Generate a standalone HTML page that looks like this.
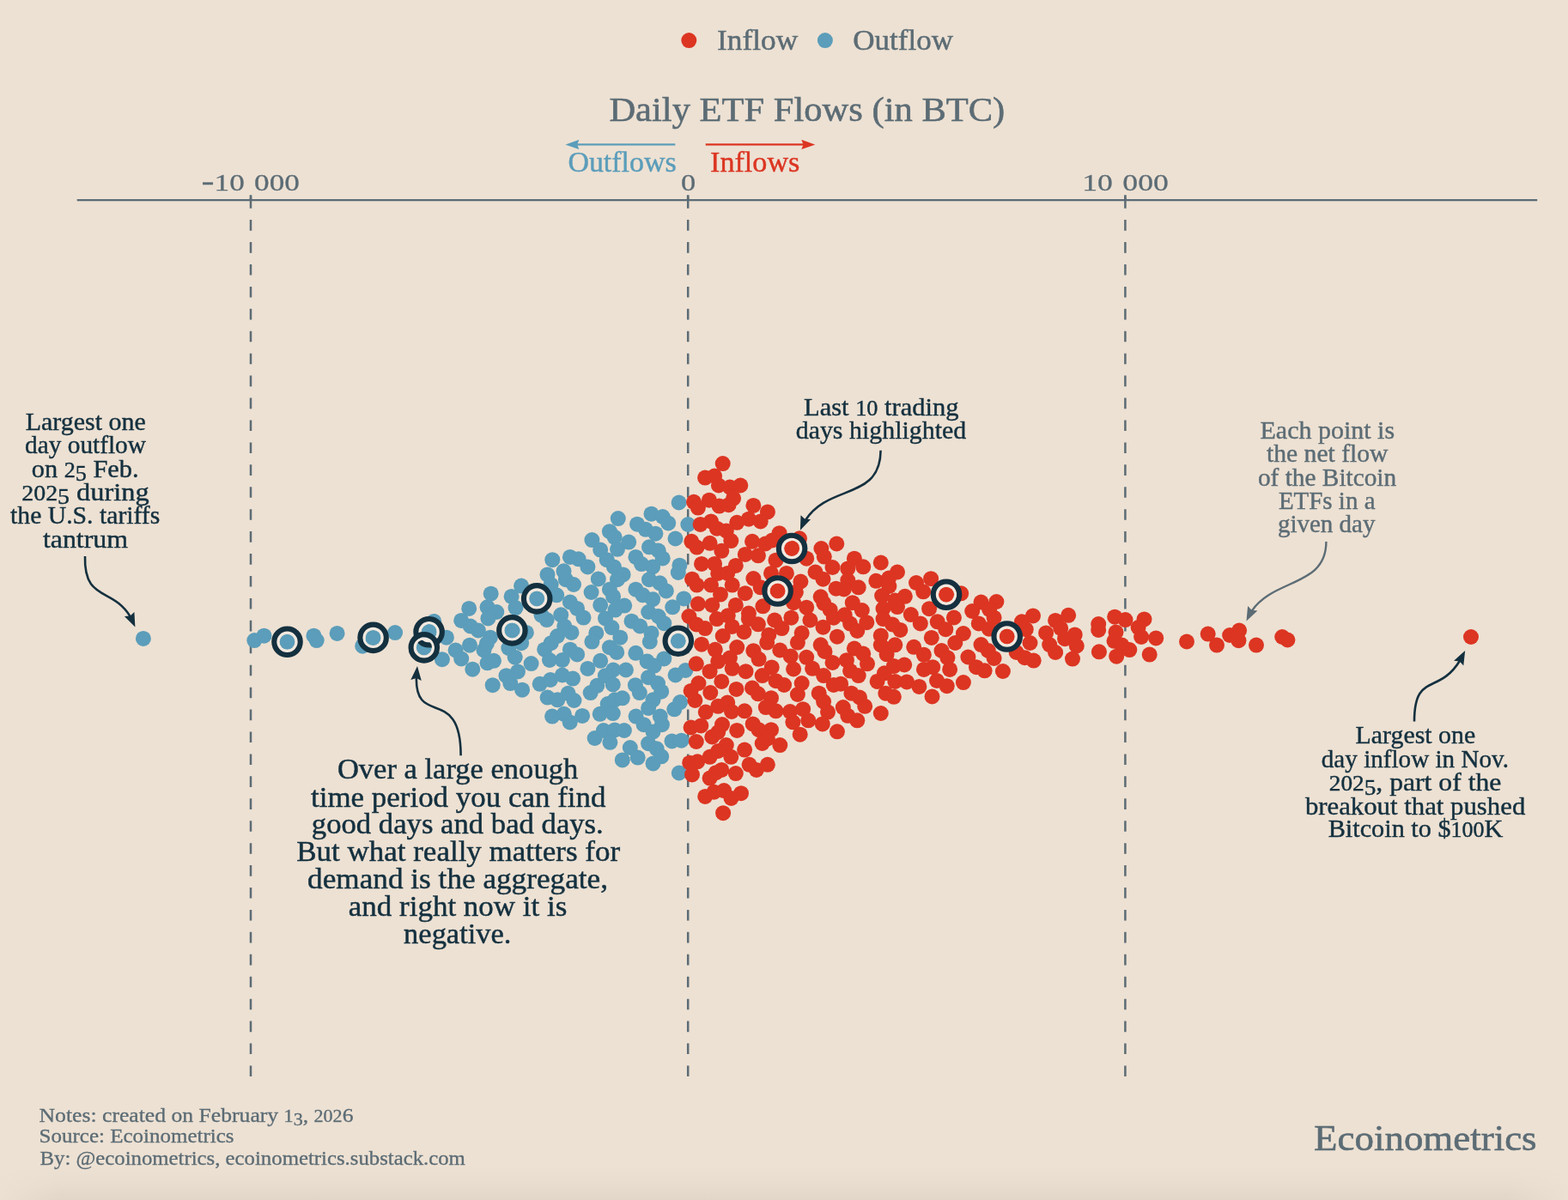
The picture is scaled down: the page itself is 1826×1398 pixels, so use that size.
<!DOCTYPE html>
<html lang="en"><head><meta charset="utf-8"><title>Daily ETF Flows (in BTC)</title>
<style>html,body{margin:0;padding:0;background:#ede1d3}body{width:1826px;height:1398px;overflow:hidden}svg{display:block}text{font-family:"Liberation Serif", serif;white-space:pre}</style></head><body>
<svg width="1826" height="1398" viewBox="0 0 1826 1398">
<defs><linearGradient id="bs" x1="0" y1="0" x2="0" y2="1"><stop offset="0" stop-color="#ede1d3"/><stop offset="0.5" stop-color="#e9ddcf"/><stop offset="1" stop-color="#e2d6c8"/></linearGradient><linearGradient id="fl" x1="0" y1="0" x2="1" y2="0"><stop offset="0" stop-color="#ede1d3" stop-opacity="0.9"/><stop offset="1" stop-color="#ede1d3" stop-opacity="0"/></linearGradient><linearGradient id="fr" x1="0" y1="0" x2="1" y2="0"><stop offset="0" stop-color="#ede1d3" stop-opacity="0"/><stop offset="1" stop-color="#ede1d3" stop-opacity="0.9"/></linearGradient></defs>
<rect width="1826" height="1398" fill="#ede1d3"/>
<rect x="0" y="1358" width="1826" height="40" fill="url(#bs)"/>
<rect x="0" y="1358" width="70" height="40" fill="url(#fl)"/><rect x="1756" y="1358" width="70" height="40" fill="url(#fr)"/>
<circle cx="802.3" cy="47.1" r="9" fill="#dc3522"/>
<text x="835.0" y="58.3" font-size="34.12" fill="#5c6c75" stroke="#5c6c75" stroke-width="0.48" text-anchor="start" textLength="94.2" lengthAdjust="spacingAndGlyphs">Inflow</text>
<circle cx="960.9" cy="47.1" r="9" fill="#5b9dba"/>
<text x="993.3" y="58.3" font-size="34.12" fill="#5c6c75" stroke="#5c6c75" stroke-width="0.48" text-anchor="start" textLength="116.7" lengthAdjust="spacingAndGlyphs">Outflow</text>
<text x="709.4" y="141.3" font-size="39.90" fill="#5c6c75" stroke="#5c6c75" stroke-width="0.56" text-anchor="start" textLength="460.9" lengthAdjust="spacingAndGlyphs">Daily ETF Flows (in BTC)</text>
<path d="M786.3,168.4 H668" stroke="#5b9dba" stroke-width="2.2" fill="none"/>
<path d="M658.4,168.4 L674.4,162.8 L672.2,168.4 L674.4,174.0 Z" fill="#5b9dba"/>
<path d="M821.7,168.4 H940" stroke="#dc3522" stroke-width="2.2" fill="none"/>
<path d="M949.3,168.4 L933.3,174.0 L935.5,168.4 L933.3,162.8 Z" fill="#dc3522"/>
<text x="661.4" y="199.9" font-size="33.60" fill="#5b9dba" stroke="#5b9dba" stroke-width="0.40" text-anchor="start" textLength="126.3" lengthAdjust="spacingAndGlyphs">Outflows</text>
<text x="827.0" y="199.9" font-size="33.60" fill="#dc3522" stroke="#dc3522" stroke-width="0.40" text-anchor="start" textLength="104.4" lengthAdjust="spacingAndGlyphs">Inflows</text>
<path d="M89.7,233.1 H1790.2" stroke="#5c6c75" stroke-width="2.4" fill="none"/>
<path d="M292.0,227.2 V233.1" stroke="#5c6c75" stroke-width="2.7" fill="none"/>
<path d="M292.0,230.17 V1254.1" stroke="#5c6c75" stroke-width="2.5" stroke-dasharray="12.6 13.33" fill="none"/>
<path d="M801.2,227.2 V233.1" stroke="#5c6c75" stroke-width="2.7" fill="none"/>
<path d="M801.2,230.17 V1254.1" stroke="#5c6c75" stroke-width="2.5" stroke-dasharray="12.6 13.33" fill="none"/>
<path d="M1310.4,227.2 V233.1" stroke="#5c6c75" stroke-width="2.7" fill="none"/>
<path d="M1310.4,230.17 V1254.1" stroke="#5c6c75" stroke-width="2.5" stroke-dasharray="12.6 13.33" fill="none"/>
<text x="234.5" y="222.2" font-size="34.12" fill="#5c6c75" stroke="#5c6c75" stroke-width="0.27" text-anchor="start" textLength="114.4" lengthAdjust="spacingAndGlyphs">-<tspan font-size="26.62">1</tspan><tspan font-size="26.62">0</tspan> <tspan font-size="26.62">0</tspan><tspan font-size="26.62">0</tspan><tspan font-size="26.62">0</tspan></text>
<text x="792.9" y="222.2" font-size="34.12" fill="#5c6c75" stroke="#5c6c75" stroke-width="0.27" text-anchor="start" textLength="17.2" lengthAdjust="spacingAndGlyphs"><tspan font-size="26.62">0</tspan></text>
<text x="1260.2" y="222.2" font-size="34.12" fill="#5c6c75" stroke="#5c6c75" stroke-width="0.27" text-anchor="start" textLength="100.7" lengthAdjust="spacingAndGlyphs"><tspan font-size="26.62">1</tspan><tspan font-size="26.62">0</tspan> <tspan font-size="26.62">0</tspan><tspan font-size="26.62">0</tspan><tspan font-size="26.62">0</tspan></text>
<g id="dots">
<circle cx="166.9" cy="743.9" r="9" fill="#5b9dba"/>
<circle cx="296.3" cy="746.1" r="9" fill="#5b9dba"/>
<circle cx="307.5" cy="740.7" r="9" fill="#5b9dba"/>
<circle cx="334.5" cy="747.8" r="9" fill="#5b9dba"/>
<circle cx="365.4" cy="740.7" r="9" fill="#5b9dba"/>
<circle cx="368.7" cy="746.1" r="9" fill="#5b9dba"/>
<circle cx="392.6" cy="737.9" r="9" fill="#5b9dba"/>
<circle cx="434.6" cy="742.9" r="9" fill="#5b9dba"/>
<circle cx="422.2" cy="752.7" r="9" fill="#5b9dba"/>
<circle cx="460.1" cy="737.1" r="9" fill="#5b9dba"/>
<circle cx="499.6" cy="736.3" r="9" fill="#5b9dba"/>
<circle cx="493.8" cy="754.4" r="9" fill="#5b9dba"/>
<circle cx="505.3" cy="723.9" r="9" fill="#5b9dba"/>
<circle cx="790.6" cy="585.5" r="9" fill="#5b9dba"/>
<circle cx="801.3" cy="611.0" r="9" fill="#5b9dba"/>
<circle cx="758.5" cy="598.7" r="9" fill="#5b9dba"/>
<circle cx="771.7" cy="602.0" r="9" fill="#5b9dba"/>
<circle cx="778.2" cy="609.4" r="9" fill="#5b9dba"/>
<circle cx="719.8" cy="604.1" r="9" fill="#5b9dba"/>
<circle cx="742.0" cy="610.7" r="9" fill="#5b9dba"/>
<circle cx="751.9" cy="616.8" r="9" fill="#5b9dba"/>
<circle cx="763.4" cy="621.7" r="9" fill="#5b9dba"/>
<circle cx="786.5" cy="627.5" r="9" fill="#5b9dba"/>
<circle cx="709.9" cy="619.2" r="9" fill="#5b9dba"/>
<circle cx="715.7" cy="625.8" r="9" fill="#5b9dba"/>
<circle cx="732.2" cy="631.6" r="9" fill="#5b9dba"/>
<circle cx="689.4" cy="629.1" r="9" fill="#5b9dba"/>
<circle cx="699.2" cy="640.6" r="9" fill="#5b9dba"/>
<circle cx="719.0" cy="639.8" r="9" fill="#5b9dba"/>
<circle cx="756.0" cy="637.3" r="9" fill="#5b9dba"/>
<circle cx="766.7" cy="641.5" r="9" fill="#5b9dba"/>
<circle cx="771.7" cy="650.5" r="9" fill="#5b9dba"/>
<circle cx="740.4" cy="648.9" r="9" fill="#5b9dba"/>
<circle cx="747.0" cy="657.1" r="9" fill="#5b9dba"/>
<circle cx="760.1" cy="660.4" r="9" fill="#5b9dba"/>
<circle cx="791.4" cy="658.7" r="9" fill="#5b9dba"/>
<circle cx="789.8" cy="667.0" r="9" fill="#5b9dba"/>
<circle cx="643.3" cy="652.2" r="9" fill="#5b9dba"/>
<circle cx="663.9" cy="648.9" r="9" fill="#5b9dba"/>
<circle cx="673.7" cy="651.3" r="9" fill="#5b9dba"/>
<circle cx="684.4" cy="660.4" r="9" fill="#5b9dba"/>
<circle cx="706.7" cy="652.2" r="9" fill="#5b9dba"/>
<circle cx="714.9" cy="660.4" r="9" fill="#5b9dba"/>
<circle cx="656.5" cy="665.3" r="9" fill="#5b9dba"/>
<circle cx="637.5" cy="669.4" r="9" fill="#5b9dba"/>
<circle cx="725.6" cy="669.4" r="9" fill="#5b9dba"/>
<circle cx="696.8" cy="674.4" r="9" fill="#5b9dba"/>
<circle cx="719.0" cy="675.2" r="9" fill="#5b9dba"/>
<circle cx="756.0" cy="675.2" r="9" fill="#5b9dba"/>
<circle cx="768.4" cy="679.3" r="9" fill="#5b9dba"/>
<circle cx="775.8" cy="688.4" r="9" fill="#5b9dba"/>
<circle cx="658.9" cy="675.2" r="9" fill="#5b9dba"/>
<circle cx="668.0" cy="681.0" r="9" fill="#5b9dba"/>
<circle cx="641.7" cy="681.0" r="9" fill="#5b9dba"/>
<circle cx="688.6" cy="690.0" r="9" fill="#5b9dba"/>
<circle cx="709.9" cy="686.7" r="9" fill="#5b9dba"/>
<circle cx="714.1" cy="694.9" r="9" fill="#5b9dba"/>
<circle cx="740.4" cy="686.7" r="9" fill="#5b9dba"/>
<circle cx="748.6" cy="693.3" r="9" fill="#5b9dba"/>
<circle cx="760.1" cy="698.2" r="9" fill="#5b9dba"/>
<circle cx="796.3" cy="697.4" r="9" fill="#5b9dba"/>
<circle cx="783.2" cy="707.3" r="9" fill="#5b9dba"/>
<circle cx="607.1" cy="682.6" r="9" fill="#5b9dba"/>
<circle cx="625.2" cy="697.4" r="9" fill="#5b9dba"/>
<circle cx="571.7" cy="691.7" r="9" fill="#5b9dba"/>
<circle cx="595.6" cy="694.9" r="9" fill="#5b9dba"/>
<circle cx="648.2" cy="693.3" r="9" fill="#5b9dba"/>
<circle cx="663.9" cy="701.5" r="9" fill="#5b9dba"/>
<circle cx="672.1" cy="708.9" r="9" fill="#5b9dba"/>
<circle cx="699.2" cy="704.8" r="9" fill="#5b9dba"/>
<circle cx="727.2" cy="705.6" r="9" fill="#5b9dba"/>
<circle cx="716.5" cy="710.6" r="9" fill="#5b9dba"/>
<circle cx="755.2" cy="713.0" r="9" fill="#5b9dba"/>
<circle cx="766.7" cy="718.0" r="9" fill="#5b9dba"/>
<circle cx="773.3" cy="726.2" r="9" fill="#5b9dba"/>
<circle cx="546.2" cy="708.9" r="9" fill="#5b9dba"/>
<circle cx="567.6" cy="707.3" r="9" fill="#5b9dba"/>
<circle cx="578.3" cy="713.0" r="9" fill="#5b9dba"/>
<circle cx="600.5" cy="708.1" r="9" fill="#5b9dba"/>
<circle cx="653.2" cy="716.3" r="9" fill="#5b9dba"/>
<circle cx="679.5" cy="719.6" r="9" fill="#5b9dba"/>
<circle cx="636.7" cy="722.1" r="9" fill="#5b9dba"/>
<circle cx="705.0" cy="720.4" r="9" fill="#5b9dba"/>
<circle cx="712.4" cy="731.1" r="9" fill="#5b9dba"/>
<circle cx="735.5" cy="723.7" r="9" fill="#5b9dba"/>
<circle cx="745.3" cy="729.5" r="9" fill="#5b9dba"/>
<circle cx="758.5" cy="737.7" r="9" fill="#5b9dba"/>
<circle cx="537.2" cy="722.9" r="9" fill="#5b9dba"/>
<circle cx="547.8" cy="729.5" r="9" fill="#5b9dba"/>
<circle cx="556.9" cy="734.4" r="9" fill="#5b9dba"/>
<circle cx="568.4" cy="720.4" r="9" fill="#5b9dba"/>
<circle cx="596.4" cy="734.4" r="9" fill="#5b9dba"/>
<circle cx="612.9" cy="736.9" r="9" fill="#5b9dba"/>
<circle cx="657.3" cy="729.5" r="9" fill="#5b9dba"/>
<circle cx="665.5" cy="736.9" r="9" fill="#5b9dba"/>
<circle cx="649.1" cy="741.0" r="9" fill="#5b9dba"/>
<circle cx="694.3" cy="737.7" r="9" fill="#5b9dba"/>
<circle cx="689.4" cy="747.6" r="9" fill="#5b9dba"/>
<circle cx="722.3" cy="742.7" r="9" fill="#5b9dba"/>
<circle cx="709.9" cy="754.2" r="9" fill="#5b9dba"/>
<circle cx="756.8" cy="747.6" r="9" fill="#5b9dba"/>
<circle cx="789.8" cy="746.8" r="9" fill="#5b9dba"/>
<circle cx="519.9" cy="742.7" r="9" fill="#5b9dba"/>
<circle cx="530.6" cy="757.5" r="9" fill="#5b9dba"/>
<circle cx="547.0" cy="751.7" r="9" fill="#5b9dba"/>
<circle cx="570.9" cy="742.7" r="9" fill="#5b9dba"/>
<circle cx="563.5" cy="757.5" r="9" fill="#5b9dba"/>
<circle cx="592.3" cy="755.0" r="9" fill="#5b9dba"/>
<circle cx="607.1" cy="749.2" r="9" fill="#5b9dba"/>
<circle cx="634.2" cy="756.7" r="9" fill="#5b9dba"/>
<circle cx="641.7" cy="749.2" r="9" fill="#5b9dba"/>
<circle cx="663.9" cy="756.7" r="9" fill="#5b9dba"/>
<circle cx="672.1" cy="762.4" r="9" fill="#5b9dba"/>
<circle cx="740.4" cy="760.8" r="9" fill="#5b9dba"/>
<circle cx="699.2" cy="769.8" r="9" fill="#5b9dba"/>
<circle cx="718.2" cy="759.9" r="9" fill="#5b9dba"/>
<circle cx="773.3" cy="767.4" r="9" fill="#5b9dba"/>
<circle cx="514.9" cy="768.2" r="9" fill="#5b9dba"/>
<circle cx="537.2" cy="767.4" r="9" fill="#5b9dba"/>
<circle cx="550.3" cy="779.7" r="9" fill="#5b9dba"/>
<circle cx="567.6" cy="772.3" r="9" fill="#5b9dba"/>
<circle cx="575.0" cy="769.8" r="9" fill="#5b9dba"/>
<circle cx="599.7" cy="765.7" r="9" fill="#5b9dba"/>
<circle cx="618.6" cy="773.1" r="9" fill="#5b9dba"/>
<circle cx="640.0" cy="769.0" r="9" fill="#5b9dba"/>
<circle cx="654.8" cy="769.0" r="9" fill="#5b9dba"/>
<circle cx="684.4" cy="778.9" r="9" fill="#5b9dba"/>
<circle cx="728.9" cy="780.5" r="9" fill="#5b9dba"/>
<circle cx="714.1" cy="780.5" r="9" fill="#5b9dba"/>
<circle cx="753.6" cy="770.6" r="9" fill="#5b9dba"/>
<circle cx="761.8" cy="775.6" r="9" fill="#5b9dba"/>
<circle cx="573.7" cy="798.2" r="9" fill="#5b9dba"/>
<circle cx="589.5" cy="787.2" r="9" fill="#5b9dba"/>
<circle cx="594.3" cy="796.1" r="9" fill="#5b9dba"/>
<circle cx="608.1" cy="803.7" r="9" fill="#5b9dba"/>
<circle cx="628.7" cy="796.8" r="9" fill="#5b9dba"/>
<circle cx="641.0" cy="792.0" r="9" fill="#5b9dba"/>
<circle cx="654.8" cy="786.5" r="9" fill="#5b9dba"/>
<circle cx="667.1" cy="790.6" r="9" fill="#5b9dba"/>
<circle cx="637.6" cy="812.6" r="9" fill="#5b9dba"/>
<circle cx="649.3" cy="815.3" r="9" fill="#5b9dba"/>
<circle cx="661.6" cy="807.8" r="9" fill="#5b9dba"/>
<circle cx="668.5" cy="816.0" r="9" fill="#5b9dba"/>
<circle cx="643.1" cy="834.6" r="9" fill="#5b9dba"/>
<circle cx="656.8" cy="831.8" r="9" fill="#5b9dba"/>
<circle cx="663.7" cy="841.4" r="9" fill="#5b9dba"/>
<circle cx="678.1" cy="833.9" r="9" fill="#5b9dba"/>
<circle cx="687.7" cy="807.1" r="9" fill="#5b9dba"/>
<circle cx="695.3" cy="798.8" r="9" fill="#5b9dba"/>
<circle cx="704.9" cy="787.2" r="9" fill="#5b9dba"/>
<circle cx="713.8" cy="797.5" r="9" fill="#5b9dba"/>
<circle cx="707.7" cy="820.1" r="9" fill="#5b9dba"/>
<circle cx="715.9" cy="815.3" r="9" fill="#5b9dba"/>
<circle cx="724.8" cy="813.3" r="9" fill="#5b9dba"/>
<circle cx="698.7" cy="831.8" r="9" fill="#5b9dba"/>
<circle cx="713.8" cy="831.1" r="9" fill="#5b9dba"/>
<circle cx="739.9" cy="798.2" r="9" fill="#5b9dba"/>
<circle cx="744.8" cy="807.1" r="9" fill="#5b9dba"/>
<circle cx="755.1" cy="789.2" r="9" fill="#5b9dba"/>
<circle cx="766.0" cy="796.1" r="9" fill="#5b9dba"/>
<circle cx="770.2" cy="805.7" r="9" fill="#5b9dba"/>
<circle cx="760.5" cy="815.3" r="9" fill="#5b9dba"/>
<circle cx="755.1" cy="824.9" r="9" fill="#5b9dba"/>
<circle cx="740.6" cy="834.6" r="9" fill="#5b9dba"/>
<circle cx="749.6" cy="844.2" r="9" fill="#5b9dba"/>
<circle cx="768.8" cy="834.6" r="9" fill="#5b9dba"/>
<circle cx="770.9" cy="844.2" r="9" fill="#5b9dba"/>
<circle cx="760.5" cy="852.4" r="9" fill="#5b9dba"/>
<circle cx="702.9" cy="851.0" r="9" fill="#5b9dba"/>
<circle cx="715.9" cy="850.4" r="9" fill="#5b9dba"/>
<circle cx="726.9" cy="851.0" r="9" fill="#5b9dba"/>
<circle cx="692.6" cy="860.0" r="9" fill="#5b9dba"/>
<circle cx="710.4" cy="864.8" r="9" fill="#5b9dba"/>
<circle cx="733.8" cy="871.0" r="9" fill="#5b9dba"/>
<circle cx="724.8" cy="885.4" r="9" fill="#5b9dba"/>
<circle cx="742.7" cy="882.6" r="9" fill="#5b9dba"/>
<circle cx="755.1" cy="866.2" r="9" fill="#5b9dba"/>
<circle cx="764.7" cy="872.3" r="9" fill="#5b9dba"/>
<circle cx="770.2" cy="881.3" r="9" fill="#5b9dba"/>
<circle cx="760.5" cy="889.5" r="9" fill="#5b9dba"/>
<circle cx="782.5" cy="863.4" r="9" fill="#5b9dba"/>
<circle cx="793.5" cy="862.7" r="9" fill="#5b9dba"/>
<circle cx="785.3" cy="826.3" r="9" fill="#5b9dba"/>
<circle cx="792.1" cy="818.1" r="9" fill="#5b9dba"/>
<circle cx="786.6" cy="786.5" r="9" fill="#5b9dba"/>
<circle cx="798.3" cy="781.0" r="9" fill="#5b9dba"/>
<circle cx="790.8" cy="900.5" r="9" fill="#5b9dba"/>
<circle cx="841.7" cy="540.1" r="9" fill="#dc3522"/>
<circle cx="821.1" cy="556.6" r="9" fill="#dc3522"/>
<circle cx="832.1" cy="554.5" r="9" fill="#dc3522"/>
<circle cx="836.9" cy="565.5" r="9" fill="#dc3522"/>
<circle cx="849.9" cy="567.6" r="9" fill="#dc3522"/>
<circle cx="862.3" cy="565.5" r="9" fill="#dc3522"/>
<circle cx="854.1" cy="580.6" r="9" fill="#dc3522"/>
<circle cx="825.9" cy="582.7" r="9" fill="#dc3522"/>
<circle cx="808.0" cy="584.8" r="9" fill="#dc3522"/>
<circle cx="812.9" cy="591.6" r="9" fill="#dc3522"/>
<circle cx="837.6" cy="589.6" r="9" fill="#dc3522"/>
<circle cx="848.6" cy="588.2" r="9" fill="#dc3522"/>
<circle cx="877.4" cy="588.9" r="9" fill="#dc3522"/>
<circle cx="893.9" cy="596.4" r="9" fill="#dc3522"/>
<circle cx="871.9" cy="604.7" r="9" fill="#dc3522"/>
<circle cx="885.7" cy="607.4" r="9" fill="#dc3522"/>
<circle cx="858.2" cy="608.8" r="9" fill="#dc3522"/>
<circle cx="828.0" cy="607.4" r="9" fill="#dc3522"/>
<circle cx="815.6" cy="610.9" r="9" fill="#dc3522"/>
<circle cx="834.8" cy="615.7" r="9" fill="#dc3522"/>
<circle cx="845.8" cy="618.4" r="9" fill="#dc3522"/>
<circle cx="907.6" cy="621.2" r="9" fill="#dc3522"/>
<circle cx="931.0" cy="627.3" r="9" fill="#dc3522"/>
<circle cx="922.1" cy="639.0" r="9" fill="#dc3522"/>
<circle cx="876.0" cy="630.8" r="9" fill="#dc3522"/>
<circle cx="891.2" cy="633.5" r="9" fill="#dc3522"/>
<circle cx="899.4" cy="629.4" r="9" fill="#dc3522"/>
<circle cx="805.3" cy="630.8" r="9" fill="#dc3522"/>
<circle cx="811.5" cy="637.6" r="9" fill="#dc3522"/>
<circle cx="826.6" cy="632.8" r="9" fill="#dc3522"/>
<circle cx="851.3" cy="630.1" r="9" fill="#dc3522"/>
<circle cx="840.3" cy="641.8" r="9" fill="#dc3522"/>
<circle cx="867.8" cy="645.9" r="9" fill="#dc3522"/>
<circle cx="882.9" cy="647.3" r="9" fill="#dc3522"/>
<circle cx="903.5" cy="652.7" r="9" fill="#dc3522"/>
<circle cx="939.2" cy="650.7" r="9" fill="#dc3522"/>
<circle cx="956.4" cy="639.0" r="9" fill="#dc3522"/>
<circle cx="974.3" cy="633.5" r="9" fill="#dc3522"/>
<circle cx="959.8" cy="648.6" r="9" fill="#dc3522"/>
<circle cx="817.0" cy="656.9" r="9" fill="#dc3522"/>
<circle cx="832.1" cy="656.9" r="9" fill="#dc3522"/>
<circle cx="856.8" cy="658.9" r="9" fill="#dc3522"/>
<circle cx="836.2" cy="667.9" r="9" fill="#dc3522"/>
<circle cx="847.2" cy="667.9" r="9" fill="#dc3522"/>
<circle cx="898.0" cy="667.9" r="9" fill="#dc3522"/>
<circle cx="915.9" cy="667.9" r="9" fill="#dc3522"/>
<circle cx="949.5" cy="666.5" r="9" fill="#dc3522"/>
<circle cx="969.5" cy="661.0" r="9" fill="#dc3522"/>
<circle cx="994.9" cy="650.7" r="9" fill="#dc3522"/>
<circle cx="1005.2" cy="660.3" r="9" fill="#dc3522"/>
<circle cx="987.3" cy="662.4" r="9" fill="#dc3522"/>
<circle cx="1025.8" cy="655.5" r="9" fill="#dc3522"/>
<circle cx="1020.3" cy="676.8" r="9" fill="#dc3522"/>
<circle cx="806.0" cy="674.7" r="9" fill="#dc3522"/>
<circle cx="811.5" cy="681.6" r="9" fill="#dc3522"/>
<circle cx="828.0" cy="681.6" r="9" fill="#dc3522"/>
<circle cx="852.7" cy="681.6" r="9" fill="#dc3522"/>
<circle cx="877.4" cy="674.0" r="9" fill="#dc3522"/>
<circle cx="885.7" cy="684.3" r="9" fill="#dc3522"/>
<circle cx="905.6" cy="688.5" r="9" fill="#dc3522"/>
<circle cx="932.4" cy="677.5" r="9" fill="#dc3522"/>
<circle cx="926.9" cy="689.8" r="9" fill="#dc3522"/>
<circle cx="958.5" cy="674.7" r="9" fill="#dc3522"/>
<circle cx="973.6" cy="685.7" r="9" fill="#dc3522"/>
<circle cx="987.3" cy="676.1" r="9" fill="#dc3522"/>
<circle cx="999.7" cy="684.3" r="9" fill="#dc3522"/>
<circle cx="1035.4" cy="683.0" r="9" fill="#dc3522"/>
<circle cx="867.8" cy="691.2" r="9" fill="#dc3522"/>
<circle cx="839.0" cy="692.6" r="9" fill="#dc3522"/>
<circle cx="955.7" cy="695.3" r="9" fill="#dc3522"/>
<circle cx="992.8" cy="702.2" r="9" fill="#dc3522"/>
<circle cx="1027.1" cy="694.0" r="9" fill="#dc3522"/>
<circle cx="1042.3" cy="699.5" r="9" fill="#dc3522"/>
<circle cx="812.9" cy="703.6" r="9" fill="#dc3522"/>
<circle cx="829.3" cy="704.9" r="9" fill="#dc3522"/>
<circle cx="856.8" cy="704.9" r="9" fill="#dc3522"/>
<circle cx="888.4" cy="706.3" r="9" fill="#dc3522"/>
<circle cx="871.9" cy="714.6" r="9" fill="#dc3522"/>
<circle cx="924.1" cy="702.2" r="9" fill="#dc3522"/>
<circle cx="939.2" cy="707.7" r="9" fill="#dc3522"/>
<circle cx="966.7" cy="710.4" r="9" fill="#dc3522"/>
<circle cx="1028.5" cy="709.1" r="9" fill="#dc3522"/>
<circle cx="821.1" cy="732.1" r="9" fill="#dc3522"/>
<circle cx="834.8" cy="721.1" r="9" fill="#dc3522"/>
<circle cx="841.7" cy="741.0" r="9" fill="#dc3522"/>
<circle cx="866.4" cy="736.2" r="9" fill="#dc3522"/>
<circle cx="871.9" cy="721.1" r="9" fill="#dc3522"/>
<circle cx="882.9" cy="727.3" r="9" fill="#dc3522"/>
<circle cx="902.1" cy="722.5" r="9" fill="#dc3522"/>
<circle cx="910.4" cy="732.1" r="9" fill="#dc3522"/>
<circle cx="895.3" cy="739.7" r="9" fill="#dc3522"/>
<circle cx="921.4" cy="719.7" r="9" fill="#dc3522"/>
<circle cx="933.7" cy="737.6" r="9" fill="#dc3522"/>
<circle cx="943.4" cy="722.5" r="9" fill="#dc3522"/>
<circle cx="958.5" cy="730.7" r="9" fill="#dc3522"/>
<circle cx="974.9" cy="741.7" r="9" fill="#dc3522"/>
<circle cx="970.8" cy="719.7" r="9" fill="#dc3522"/>
<circle cx="990.1" cy="726.6" r="9" fill="#dc3522"/>
<circle cx="998.3" cy="734.9" r="9" fill="#dc3522"/>
<circle cx="1009.3" cy="725.2" r="9" fill="#dc3522"/>
<circle cx="1028.5" cy="721.1" r="9" fill="#dc3522"/>
<circle cx="1025.8" cy="740.4" r="9" fill="#dc3522"/>
<circle cx="817.0" cy="750.7" r="9" fill="#dc3522"/>
<circle cx="832.8" cy="756.8" r="9" fill="#dc3522"/>
<circle cx="858.2" cy="754.1" r="9" fill="#dc3522"/>
<circle cx="849.9" cy="766.5" r="9" fill="#dc3522"/>
<circle cx="877.4" cy="758.2" r="9" fill="#dc3522"/>
<circle cx="883.6" cy="767.8" r="9" fill="#dc3522"/>
<circle cx="893.2" cy="748.6" r="9" fill="#dc3522"/>
<circle cx="908.3" cy="757.5" r="9" fill="#dc3522"/>
<circle cx="920.7" cy="764.4" r="9" fill="#dc3522"/>
<circle cx="928.9" cy="748.6" r="9" fill="#dc3522"/>
<circle cx="939.2" cy="765.8" r="9" fill="#dc3522"/>
<circle cx="955.7" cy="751.3" r="9" fill="#dc3522"/>
<circle cx="960.5" cy="758.9" r="9" fill="#dc3522"/>
<circle cx="994.9" cy="755.5" r="9" fill="#dc3522"/>
<circle cx="1005.2" cy="761.6" r="9" fill="#dc3522"/>
<circle cx="985.9" cy="769.2" r="9" fill="#dc3522"/>
<circle cx="1010.0" cy="773.3" r="9" fill="#dc3522"/>
<circle cx="969.5" cy="771.9" r="9" fill="#dc3522"/>
<circle cx="1032.6" cy="762.3" r="9" fill="#dc3522"/>
<circle cx="1025.8" cy="751.3" r="9" fill="#dc3522"/>
<circle cx="1042.3" cy="751.3" r="9" fill="#dc3522"/>
<circle cx="810.8" cy="773.3" r="9" fill="#dc3522"/>
<circle cx="826.6" cy="782.2" r="9" fill="#dc3522"/>
<circle cx="836.2" cy="770.6" r="9" fill="#dc3522"/>
<circle cx="852.7" cy="778.8" r="9" fill="#dc3522"/>
<circle cx="868.5" cy="782.2" r="9" fill="#dc3522"/>
<circle cx="887.7" cy="787.1" r="9" fill="#dc3522"/>
<circle cx="898.7" cy="777.4" r="9" fill="#dc3522"/>
<circle cx="924.1" cy="779.5" r="9" fill="#dc3522"/>
<circle cx="946.1" cy="778.8" r="9" fill="#dc3522"/>
<circle cx="959.1" cy="787.1" r="9" fill="#dc3522"/>
<circle cx="990.1" cy="781.6" r="9" fill="#dc3522"/>
<circle cx="999.7" cy="787.1" r="9" fill="#dc3522"/>
<circle cx="1029.9" cy="784.3" r="9" fill="#dc3522"/>
<circle cx="1021.6" cy="793.9" r="9" fill="#dc3522"/>
<circle cx="1040.9" cy="776.1" r="9" fill="#dc3522"/>
<circle cx="1042.3" cy="793.9" r="9" fill="#dc3522"/>
<circle cx="813.5" cy="796.0" r="9" fill="#dc3522"/>
<circle cx="804.6" cy="804.9" r="9" fill="#dc3522"/>
<circle cx="809.4" cy="815.9" r="9" fill="#dc3522"/>
<circle cx="827.3" cy="807.0" r="9" fill="#dc3522"/>
<circle cx="840.3" cy="793.9" r="9" fill="#dc3522"/>
<circle cx="857.5" cy="802.9" r="9" fill="#dc3522"/>
<circle cx="876.0" cy="801.5" r="9" fill="#dc3522"/>
<circle cx="882.9" cy="808.3" r="9" fill="#dc3522"/>
<circle cx="898.0" cy="813.2" r="9" fill="#dc3522"/>
<circle cx="903.5" cy="793.2" r="9" fill="#dc3522"/>
<circle cx="913.1" cy="798.0" r="9" fill="#dc3522"/>
<circle cx="933.7" cy="796.0" r="9" fill="#dc3522"/>
<circle cx="928.9" cy="809.0" r="9" fill="#dc3522"/>
<circle cx="953.7" cy="807.7" r="9" fill="#dc3522"/>
<circle cx="959.1" cy="817.3" r="9" fill="#dc3522"/>
<circle cx="970.8" cy="798.0" r="9" fill="#dc3522"/>
<circle cx="979.1" cy="796.7" r="9" fill="#dc3522"/>
<circle cx="991.4" cy="807.7" r="9" fill="#dc3522"/>
<circle cx="1001.0" cy="812.5" r="9" fill="#dc3522"/>
<circle cx="1007.2" cy="822.8" r="9" fill="#dc3522"/>
<circle cx="1031.3" cy="807.7" r="9" fill="#dc3522"/>
<circle cx="1040.9" cy="811.8" r="9" fill="#dc3522"/>
<circle cx="821.8" cy="829.6" r="9" fill="#dc3522"/>
<circle cx="836.2" cy="822.8" r="9" fill="#dc3522"/>
<circle cx="847.2" cy="818.6" r="9" fill="#dc3522"/>
<circle cx="852.0" cy="829.0" r="9" fill="#dc3522"/>
<circle cx="867.1" cy="828.3" r="9" fill="#dc3522"/>
<circle cx="891.8" cy="824.1" r="9" fill="#dc3522"/>
<circle cx="903.5" cy="828.3" r="9" fill="#dc3522"/>
<circle cx="920.0" cy="829.0" r="9" fill="#dc3522"/>
<circle cx="935.1" cy="826.2" r="9" fill="#dc3522"/>
<circle cx="941.3" cy="839.3" r="9" fill="#dc3522"/>
<circle cx="923.4" cy="841.3" r="9" fill="#dc3522"/>
<circle cx="964.0" cy="829.6" r="9" fill="#dc3522"/>
<circle cx="957.8" cy="843.4" r="9" fill="#dc3522"/>
<circle cx="981.8" cy="824.1" r="9" fill="#dc3522"/>
<circle cx="987.3" cy="833.8" r="9" fill="#dc3522"/>
<circle cx="998.3" cy="839.3" r="9" fill="#dc3522"/>
<circle cx="1025.8" cy="831.0" r="9" fill="#dc3522"/>
<circle cx="804.6" cy="847.5" r="9" fill="#dc3522"/>
<circle cx="816.3" cy="845.4" r="9" fill="#dc3522"/>
<circle cx="841.0" cy="844.1" r="9" fill="#dc3522"/>
<circle cx="876.7" cy="843.4" r="9" fill="#dc3522"/>
<circle cx="883.6" cy="850.2" r="9" fill="#dc3522"/>
<circle cx="898.0" cy="850.2" r="9" fill="#dc3522"/>
<circle cx="810.8" cy="864.0" r="9" fill="#dc3522"/>
<circle cx="829.3" cy="858.5" r="9" fill="#dc3522"/>
<circle cx="836.2" cy="853.0" r="9" fill="#dc3522"/>
<circle cx="858.2" cy="850.9" r="9" fill="#dc3522"/>
<circle cx="845.8" cy="868.1" r="9" fill="#dc3522"/>
<circle cx="867.1" cy="873.6" r="9" fill="#dc3522"/>
<circle cx="887.7" cy="866.0" r="9" fill="#dc3522"/>
<circle cx="893.9" cy="860.5" r="9" fill="#dc3522"/>
<circle cx="908.3" cy="868.1" r="9" fill="#dc3522"/>
<circle cx="931.7" cy="855.7" r="9" fill="#dc3522"/>
<circle cx="974.9" cy="852.3" r="9" fill="#dc3522"/>
<circle cx="803.2" cy="888.7" r="9" fill="#dc3522"/>
<circle cx="812.2" cy="887.3" r="9" fill="#dc3522"/>
<circle cx="826.6" cy="881.8" r="9" fill="#dc3522"/>
<circle cx="836.2" cy="875.0" r="9" fill="#dc3522"/>
<circle cx="851.3" cy="881.8" r="9" fill="#dc3522"/>
<circle cx="872.6" cy="890.8" r="9" fill="#dc3522"/>
<circle cx="893.9" cy="890.8" r="9" fill="#dc3522"/>
<circle cx="880.9" cy="896.9" r="9" fill="#dc3522"/>
<circle cx="806.0" cy="902.4" r="9" fill="#dc3522"/>
<circle cx="826.6" cy="906.6" r="9" fill="#dc3522"/>
<circle cx="840.3" cy="896.9" r="9" fill="#dc3522"/>
<circle cx="856.8" cy="901.1" r="9" fill="#dc3522"/>
<circle cx="833.7" cy="900.2" r="9" fill="#dc3522"/>
<circle cx="843.1" cy="921.1" r="9" fill="#dc3522"/>
<circle cx="831.6" cy="922.7" r="9" fill="#dc3522"/>
<circle cx="821.2" cy="927.9" r="9" fill="#dc3522"/>
<circle cx="851.5" cy="930.0" r="9" fill="#dc3522"/>
<circle cx="863.0" cy="924.2" r="9" fill="#dc3522"/>
<circle cx="842.1" cy="947.2" r="9" fill="#dc3522"/>
<circle cx="1067.0" cy="679.0" r="9" fill="#dc3522"/>
<circle cx="1084.1" cy="674.2" r="9" fill="#dc3522"/>
<circle cx="1075.2" cy="689.3" r="9" fill="#dc3522"/>
<circle cx="1053.9" cy="694.8" r="9" fill="#dc3522"/>
<circle cx="1102.0" cy="692.7" r="9" fill="#dc3522"/>
<circle cx="1119.2" cy="691.3" r="9" fill="#dc3522"/>
<circle cx="1082.1" cy="709.2" r="9" fill="#dc3522"/>
<circle cx="1110.9" cy="719.5" r="9" fill="#dc3522"/>
<circle cx="1060.8" cy="716.1" r="9" fill="#dc3522"/>
<circle cx="1071.8" cy="726.4" r="9" fill="#dc3522"/>
<circle cx="1091.7" cy="724.3" r="9" fill="#dc3522"/>
<circle cx="1101.3" cy="733.2" r="9" fill="#dc3522"/>
<circle cx="1045.0" cy="707.1" r="9" fill="#dc3522"/>
<circle cx="1048.4" cy="733.9" r="9" fill="#dc3522"/>
<circle cx="1084.8" cy="742.9" r="9" fill="#dc3522"/>
<circle cx="1121.9" cy="738.0" r="9" fill="#dc3522"/>
<circle cx="1112.3" cy="749.0" r="9" fill="#dc3522"/>
<circle cx="1064.2" cy="753.8" r="9" fill="#dc3522"/>
<circle cx="1075.9" cy="762.8" r="9" fill="#dc3522"/>
<circle cx="1096.5" cy="758.0" r="9" fill="#dc3522"/>
<circle cx="1103.4" cy="766.2" r="9" fill="#dc3522"/>
<circle cx="1142.5" cy="701.6" r="9" fill="#dc3522"/>
<circle cx="1160.4" cy="701.0" r="9" fill="#dc3522"/>
<circle cx="1132.2" cy="712.0" r="9" fill="#dc3522"/>
<circle cx="1139.8" cy="726.4" r="9" fill="#dc3522"/>
<circle cx="1157.6" cy="719.5" r="9" fill="#dc3522"/>
<circle cx="1152.1" cy="709.9" r="9" fill="#dc3522"/>
<circle cx="1172.7" cy="741.5" r="9" fill="#dc3522"/>
<circle cx="1203.0" cy="717.4" r="9" fill="#dc3522"/>
<circle cx="1189.9" cy="724.3" r="9" fill="#dc3522"/>
<circle cx="1194.7" cy="733.2" r="9" fill="#dc3522"/>
<circle cx="1199.5" cy="749.0" r="9" fill="#dc3522"/>
<circle cx="1142.5" cy="751.1" r="9" fill="#dc3522"/>
<circle cx="1150.8" cy="758.0" r="9" fill="#dc3522"/>
<circle cx="1157.6" cy="766.9" r="9" fill="#dc3522"/>
<circle cx="1127.4" cy="765.5" r="9" fill="#dc3522"/>
<circle cx="1137.0" cy="777.2" r="9" fill="#dc3522"/>
<circle cx="1146.6" cy="781.3" r="9" fill="#dc3522"/>
<circle cx="1167.9" cy="782.0" r="9" fill="#dc3522"/>
<circle cx="1183.7" cy="760.0" r="9" fill="#dc3522"/>
<circle cx="1193.4" cy="766.2" r="9" fill="#dc3522"/>
<circle cx="1203.7" cy="769.6" r="9" fill="#dc3522"/>
<circle cx="1218.1" cy="737.4" r="9" fill="#dc3522"/>
<circle cx="1222.2" cy="751.1" r="9" fill="#dc3522"/>
<circle cx="1229.1" cy="760.0" r="9" fill="#dc3522"/>
<circle cx="1229.1" cy="722.9" r="9" fill="#dc3522"/>
<circle cx="1244.2" cy="716.8" r="9" fill="#dc3522"/>
<circle cx="1235.2" cy="731.9" r="9" fill="#dc3522"/>
<circle cx="1240.1" cy="744.2" r="9" fill="#dc3522"/>
<circle cx="1251.7" cy="739.4" r="9" fill="#dc3522"/>
<circle cx="1253.8" cy="752.5" r="9" fill="#dc3522"/>
<circle cx="1249.0" cy="767.6" r="9" fill="#dc3522"/>
<circle cx="1279.2" cy="727.1" r="9" fill="#dc3522"/>
<circle cx="1279.2" cy="733.9" r="9" fill="#dc3522"/>
<circle cx="1279.9" cy="759.3" r="9" fill="#dc3522"/>
<circle cx="1053.2" cy="774.5" r="9" fill="#dc3522"/>
<circle cx="1075.9" cy="779.9" r="9" fill="#dc3522"/>
<circle cx="1086.2" cy="777.2" r="9" fill="#dc3522"/>
<circle cx="1106.1" cy="779.9" r="9" fill="#dc3522"/>
<circle cx="1121.9" cy="795.1" r="9" fill="#dc3522"/>
<circle cx="1056.0" cy="794.4" r="9" fill="#dc3522"/>
<circle cx="1091.0" cy="793.0" r="9" fill="#dc3522"/>
<circle cx="1070.4" cy="799.9" r="9" fill="#dc3522"/>
<circle cx="1102.7" cy="799.2" r="9" fill="#dc3522"/>
<circle cx="1085.5" cy="811.5" r="9" fill="#dc3522"/>
<circle cx="1298.2" cy="718.7" r="9" fill="#dc3522"/>
<circle cx="1310.5" cy="722.1" r="9" fill="#dc3522"/>
<circle cx="1332.5" cy="721.4" r="9" fill="#dc3522"/>
<circle cx="1325.6" cy="731.0" r="9" fill="#dc3522"/>
<circle cx="1299.5" cy="736.5" r="9" fill="#dc3522"/>
<circle cx="1329.1" cy="742.0" r="9" fill="#dc3522"/>
<circle cx="1346.2" cy="743.4" r="9" fill="#dc3522"/>
<circle cx="1297.5" cy="746.8" r="9" fill="#dc3522"/>
<circle cx="1306.4" cy="751.6" r="9" fill="#dc3522"/>
<circle cx="1315.3" cy="757.1" r="9" fill="#dc3522"/>
<circle cx="1300.2" cy="764.7" r="9" fill="#dc3522"/>
<circle cx="1338.7" cy="762.6" r="9" fill="#dc3522"/>
<circle cx="1382.0" cy="747.5" r="9" fill="#dc3522"/>
<circle cx="1406.7" cy="738.6" r="9" fill="#dc3522"/>
<circle cx="1417.0" cy="751.6" r="9" fill="#dc3522"/>
<circle cx="1432.1" cy="740.0" r="9" fill="#dc3522"/>
<circle cx="1443.1" cy="734.5" r="9" fill="#dc3522"/>
<circle cx="1442.4" cy="746.2" r="9" fill="#dc3522"/>
<circle cx="1463.0" cy="751.6" r="9" fill="#dc3522"/>
<circle cx="1493.2" cy="742.0" r="9" fill="#dc3522"/>
<circle cx="1499.4" cy="745.5" r="9" fill="#dc3522"/>
<circle cx="1713.0" cy="742.0" r="9" fill="#dc3522"/>
<circle cx="802.4" cy="718.0" r="9" fill="#dc3522"/>
<circle cx="811.0" cy="727.4" r="9" fill="#dc3522"/>
<circle cx="847.7" cy="717.2" r="9" fill="#dc3522"/>
<circle cx="852.6" cy="729.9" r="9" fill="#dc3522"/>
<circle cx="1045.0" cy="666.5" r="9" fill="#dc3522"/>
<circle cx="1035.1" cy="673.6" r="9" fill="#dc3522"/>
<circle cx="982.8" cy="686.4" r="9" fill="#dc3522"/>
<circle cx="959.4" cy="702.9" r="9" fill="#dc3522"/>
<circle cx="1003.8" cy="711.0" r="9" fill="#dc3522"/>
<circle cx="983.7" cy="716.3" r="9" fill="#dc3522"/>
<circle cx="1039.2" cy="727.4" r="9" fill="#dc3522"/>
<circle cx="1151.8" cy="732.7" r="9" fill="#dc3522"/>
<circle cx="603.0" cy="782.4" r="9" fill="#5b9dba"/>
<circle cx="630.5" cy="716.6" r="9" fill="#5b9dba"/>
<circle cx="566.8" cy="749.9" r="9" fill="#5b9dba"/>
</g>
<g id="rings" fill="none">
<circle cx="334.5" cy="747.8" r="10.75" stroke="#f2e9e0" stroke-width="3.0"/><circle cx="334.5" cy="747.8" r="15.25" stroke="#14303f" stroke-width="6.1"/>
<circle cx="434.6" cy="742.9" r="10.75" stroke="#f2e9e0" stroke-width="3.0"/><circle cx="434.6" cy="742.9" r="15.25" stroke="#14303f" stroke-width="6.1"/>
<circle cx="499.6" cy="736.3" r="10.75" stroke="#f2e9e0" stroke-width="3.0"/><circle cx="499.6" cy="736.3" r="15.25" stroke="#14303f" stroke-width="6.1"/>
<circle cx="493.8" cy="754.4" r="10.75" stroke="#f2e9e0" stroke-width="3.0"/><circle cx="493.8" cy="754.4" r="15.25" stroke="#14303f" stroke-width="6.1"/>
<circle cx="625.2" cy="697.4" r="10.75" stroke="#f2e9e0" stroke-width="3.0"/><circle cx="625.2" cy="697.4" r="15.25" stroke="#14303f" stroke-width="6.1"/>
<circle cx="596.4" cy="734.4" r="10.75" stroke="#f2e9e0" stroke-width="3.0"/><circle cx="596.4" cy="734.4" r="15.25" stroke="#14303f" stroke-width="6.1"/>
<circle cx="789.8" cy="746.8" r="10.75" stroke="#f2e9e0" stroke-width="3.0"/><circle cx="789.8" cy="746.8" r="15.25" stroke="#14303f" stroke-width="6.1"/>
<circle cx="922.1" cy="639.0" r="10.75" stroke="#f2e9e0" stroke-width="3.0"/><circle cx="922.1" cy="639.0" r="15.25" stroke="#14303f" stroke-width="6.1"/>
<circle cx="905.6" cy="688.5" r="10.75" stroke="#f2e9e0" stroke-width="3.0"/><circle cx="905.6" cy="688.5" r="15.25" stroke="#14303f" stroke-width="6.1"/>
<circle cx="1102.0" cy="692.7" r="10.75" stroke="#f2e9e0" stroke-width="3.0"/><circle cx="1102.0" cy="692.7" r="15.25" stroke="#14303f" stroke-width="6.1"/>
<circle cx="1172.7" cy="741.5" r="10.75" stroke="#f2e9e0" stroke-width="3.0"/><circle cx="1172.7" cy="741.5" r="15.25" stroke="#14303f" stroke-width="6.1"/>
</g>
<text x="29.7" y="500.9" font-size="28.46" fill="#14303f" stroke="#14303f" stroke-width="0.40" text-anchor="start" textLength="140.2" lengthAdjust="spacingAndGlyphs">Largest one</text>
<text x="29.1" y="528.2" font-size="28.46" fill="#14303f" stroke="#14303f" stroke-width="0.40" text-anchor="start" textLength="140.8" lengthAdjust="spacingAndGlyphs">day outflow</text>
<text x="36.7" y="555.7" font-size="28.46" fill="#14303f" stroke="#14303f" stroke-width="0.40" text-anchor="start" textLength="125.0" lengthAdjust="spacingAndGlyphs">on <tspan font-size="24.47">2</tspan><tspan font-size="24.47" dy="4.55">5</tspan><tspan dy="-4.55"> Feb.</tspan></text>
<text x="25.3" y="582.7" font-size="28.46" fill="#14303f" stroke="#14303f" stroke-width="0.40" text-anchor="start" textLength="148.4" lengthAdjust="spacingAndGlyphs"><tspan font-size="24.47">2</tspan><tspan font-size="24.47">0</tspan><tspan font-size="24.47">2</tspan><tspan font-size="24.47" dy="4.55">5</tspan><tspan dy="-4.55"> during</tspan></text>
<text x="12.1" y="610.1" font-size="28.46" fill="#14303f" stroke="#14303f" stroke-width="0.40" text-anchor="start" textLength="174.2" lengthAdjust="spacingAndGlyphs">the U.S. tariffs</text>
<text x="49.9" y="637.5" font-size="28.46" fill="#14303f" stroke="#14303f" stroke-width="0.40" text-anchor="start" textLength="99.2" lengthAdjust="spacingAndGlyphs">tantrum</text>
<path d="M99.0,648.0 C97.5,701.0 131.3,683.9 151.7,718.3" fill="none" stroke="#14303f" stroke-width="2.6"/><path d="M157.4,730.5 L144.9,718.0 L151.6,717.5 L156.4,712.9 Z" fill="#14303f"/>
<text x="936.0" y="484.1" font-size="28.46" fill="#14303f" stroke="#14303f" stroke-width="0.40" text-anchor="start" textLength="180.6" lengthAdjust="spacingAndGlyphs">Last <tspan font-size="24.47">1</tspan><tspan font-size="24.47">0</tspan> trading</text>
<text x="926.7" y="511.2" font-size="28.46" fill="#14303f" stroke="#14303f" stroke-width="0.40" text-anchor="start" textLength="198.5" lengthAdjust="spacingAndGlyphs">days highlighted</text>
<path d="M1025.6,524.7 C1025.1,583.1 965.4,563.4 938.0,606.0" fill="none" stroke="#14303f" stroke-width="2.6"/><path d="M931.9,617.8 L932.5,600.2 L937.4,604.7 L944.1,605.1 Z" fill="#14303f"/>
<text x="1467.5" y="510.8" font-size="28.46" fill="#5c6c75" stroke="#5c6c75" stroke-width="0.40" text-anchor="start" textLength="156.6" lengthAdjust="spacingAndGlyphs">Each point is</text>
<text x="1475.0" y="538.2" font-size="28.46" fill="#5c6c75" stroke="#5c6c75" stroke-width="0.40" text-anchor="start" textLength="141.5" lengthAdjust="spacingAndGlyphs">the net flow</text>
<text x="1464.9" y="565.5" font-size="28.46" fill="#5c6c75" stroke="#5c6c75" stroke-width="0.40" text-anchor="start" textLength="161.3" lengthAdjust="spacingAndGlyphs">of the Bitcoin</text>
<text x="1488.9" y="592.7" font-size="28.46" fill="#5c6c75" stroke="#5c6c75" stroke-width="0.40" text-anchor="start" textLength="112.6" lengthAdjust="spacingAndGlyphs">ETFs in a</text>
<text x="1487.9" y="619.6" font-size="28.46" fill="#5c6c75" stroke="#5c6c75" stroke-width="0.40" text-anchor="start" textLength="113.6" lengthAdjust="spacingAndGlyphs">given day</text>
<path d="M1544.4,631.1 C1544.4,683.7 1484.1,673.2 1457.8,711.6" fill="none" stroke="#5c6c75" stroke-width="2.4"/><path d="M1451.5,723.5 L1453.1,705.9 L1457.7,710.7 L1464.4,711.4 Z" fill="#5c6c75"/>
<text x="1578.5" y="866.3" font-size="28.46" fill="#14303f" stroke="#14303f" stroke-width="0.40" text-anchor="start" textLength="139.8" lengthAdjust="spacingAndGlyphs">Largest one</text>
<text x="1538.8" y="893.8" font-size="28.46" fill="#14303f" stroke="#14303f" stroke-width="0.40" text-anchor="start" textLength="218.2" lengthAdjust="spacingAndGlyphs">day inflow in Nov.</text>
<text x="1547.8" y="921.1" font-size="28.46" fill="#14303f" stroke="#14303f" stroke-width="0.40" text-anchor="start" textLength="200.6" lengthAdjust="spacingAndGlyphs"><tspan font-size="24.47">2</tspan><tspan font-size="24.47">0</tspan><tspan font-size="24.47">2</tspan><tspan font-size="24.47" dy="4.55">5</tspan><tspan dy="-4.55">, part of the</tspan></text>
<text x="1519.9" y="948.5" font-size="28.46" fill="#14303f" stroke="#14303f" stroke-width="0.40" text-anchor="start" textLength="256.4" lengthAdjust="spacingAndGlyphs">breakout that pushed</text>
<text x="1546.7" y="975.4" font-size="28.46" fill="#14303f" stroke="#14303f" stroke-width="0.40" text-anchor="start" textLength="203.8" lengthAdjust="spacingAndGlyphs">Bitcoin to $<tspan font-size="24.47">1</tspan><tspan font-size="24.47">0</tspan><tspan font-size="24.47">0</tspan>K</text>
<path d="M1647.0,840.5 C1647.1,782.7 1675.2,810.0 1700.0,769.7" fill="none" stroke="#14303f" stroke-width="2.6"/><path d="M1706.2,757.9 L1704.3,775.5 L1699.8,770.5 L1693.1,769.7 Z" fill="#14303f"/>
<text x="392.9" y="907.3" font-size="33.60" fill="#14303f" stroke="#14303f" stroke-width="0.47" text-anchor="start" textLength="280.3" lengthAdjust="spacingAndGlyphs">Over a large enough</text>
<text x="362.0" y="939.5" font-size="33.60" fill="#14303f" stroke="#14303f" stroke-width="0.47" text-anchor="start" textLength="343.4" lengthAdjust="spacingAndGlyphs">time period you can find</text>
<text x="362.8" y="971.1" font-size="33.60" fill="#14303f" stroke="#14303f" stroke-width="0.47" text-anchor="start" textLength="340.0" lengthAdjust="spacingAndGlyphs">good days and bad days.</text>
<text x="345.2" y="1002.8" font-size="33.60" fill="#14303f" stroke="#14303f" stroke-width="0.47" text-anchor="start" textLength="376.9" lengthAdjust="spacingAndGlyphs">But what really matters for</text>
<text x="358.1" y="1035.0" font-size="33.60" fill="#14303f" stroke="#14303f" stroke-width="0.47" text-anchor="start" textLength="349.9" lengthAdjust="spacingAndGlyphs">demand is the aggregate,</text>
<text x="405.8" y="1066.9" font-size="33.60" fill="#14303f" stroke="#14303f" stroke-width="0.47" text-anchor="start" textLength="254.6" lengthAdjust="spacingAndGlyphs">and right now it is</text>
<text x="470.1" y="1098.6" font-size="33.60" fill="#14303f" stroke="#14303f" stroke-width="0.47" text-anchor="start" textLength="125.4" lengthAdjust="spacingAndGlyphs">negative.</text>
<path d="M536.6,880.3 C536.8,798.1 483.5,847.4 484.9,789.5" fill="none" stroke="#14303f" stroke-width="2.6"/><path d="M486.0,776.0 L490.8,793.0 L484.8,790.1 L478.3,791.9 Z" fill="#14303f"/>
<text x="45.6" y="1306.8" font-size="23.84" fill="#5c6c75" stroke="#5c6c75" stroke-width="0.33" text-anchor="start" textLength="365.9" lengthAdjust="spacingAndGlyphs">Notes: created on February <tspan font-size="20.50">1</tspan><tspan font-size="20.50" dy="3.81">3</tspan><tspan dy="-3.81">, </tspan><tspan font-size="20.50">2</tspan><tspan font-size="20.50">0</tspan><tspan font-size="20.50">2</tspan><tspan font-size="23.84">6</tspan></text>
<text x="45.6" y="1331.3" font-size="23.84" fill="#5c6c75" stroke="#5c6c75" stroke-width="0.33" text-anchor="start" textLength="227.0" lengthAdjust="spacingAndGlyphs">Source: Ecoinometrics</text>
<text x="46.5" y="1356.5" font-size="23.84" fill="#5c6c75" stroke="#5c6c75" stroke-width="0.33" text-anchor="start" textLength="495.4" lengthAdjust="spacingAndGlyphs">By: @ecoinometrics, ecoinometrics.substack.com</text>
<text x="1530.1" y="1339.5" font-size="42.63" fill="#5c6c75" stroke="#5c6c75" stroke-width="0.60" text-anchor="start" textLength="259.5" lengthAdjust="spacingAndGlyphs">Ecoinometrics</text>
</svg></body></html>
